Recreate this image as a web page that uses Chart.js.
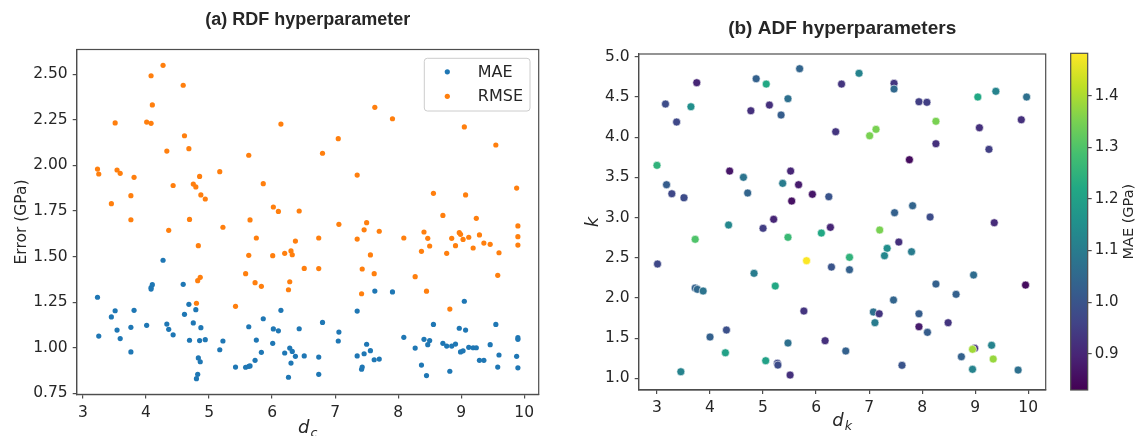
<!doctype html>
<html>
<head>
<meta charset="utf-8">
<title>RDF / ADF hyperparameters</title>
<script src="https://cdn.jsdelivr.net/npm/chart.js@4"></script>
<style>
  body { margin: 0; background: #fff; width: 1137px; height: 436px; overflow: hidden; position: relative; }
  .box { position: absolute; top: 0; height: 436px; }
</style>
</head>
<body>
<div class="box" style="left:0;width:560px"><canvas id="rdf"></canvas></div>
<div class="box" style="left:560px;width:577px"><canvas id="adf"></canvas></div>
<div class="box" style="left:1040px;width:97px"><canvas id="cbar"></canvas></div>

<script>
// ---- data ----
// (a) RDF: cutoff d_c, MAE and RMSE (GPa)
const dcValues = [3.23,3.25,3.45,3.51,3.54,3.59,3.76,3.76,3.81,4.01,
  4.08,4.08,4.10,4.27,4.33,4.36,4.43,4.59,4.61,4.68,
  4.69,4.75,4.79,4.80,4.82,4.83,4.85,4.86,4.87,4.94,
  5.17,5.22,5.42,5.58,5.63,5.63,5.65,5.73,5.75,5.83,
  5.86,6.01,6.02,6.10,6.14,6.20,6.26,6.28,6.30,6.32,
  6.37,6.43,6.51,6.74,6.74,6.80,7.05,7.06,7.35,7.35,
  7.42,7.43,7.46,7.50,7.56,7.62,7.63,7.70,7.91,8.09,
  8.27,8.37,8.41,8.45,8.47,8.50,8.56,8.71,8.77,8.82,
  8.85,8.91,8.97,8.99,9.03,9.05,9.07,9.12,9.19,9.24,
  9.29,9.36,9.46,9.55,9.58,9.60,9.88,9.90,9.90,9.90]
const maeRdf = [1.277,1.064,1.169,1.203,1.097,1.050,1.112,0.977,1.205,1.123,
  1.322,1.330,1.346,1.480,1.130,1.101,1.071,1.348,1.183,1.238,
  1.041,1.136,1.209,0.830,0.854,0.944,1.039,0.923,1.110,1.044,
  0.989,1.037,0.894,0.893,0.898,1.115,0.900,0.931,1.042,0.975,
  1.159,1.024,1.103,1.093,1.205,0.971,0.838,0.998,0.916,0.980,
  0.953,1.104,0.955,0.949,0.854,1.139,1.037,1.086,1.201,0.955,
  0.882,0.894,0.967,1.019,0.984,0.934,1.311,0.938,1.306,1.057,
  0.998,0.905,1.046,0.847,1.017,1.039,1.128,1.024,1.009,0.871,
  1.009,1.020,1.107,0.977,0.983,1.255,1.097,1.002,1.000,1.000,
  0.931,0.931,1.017,1.128,0.894,0.960,0.953,1.055,1.046,0.890]
const rmseRdf = [1.980,1.953,1.790,2.233,1.975,1.957,1.834,1.702,1.935,2.238,
  2.492,2.231,2.332,2.549,2.079,1.644,1.890,2.440,2.163,2.092,
  1.704,1.898,1.882,1.244,1.368,1.560,1.940,1.386,1.838,1.816,
  1.966,1.661,1.227,1.406,1.507,2.056,1.701,1.357,1.602,1.337,
  1.900,1.505,1.772,1.748,2.227,1.518,1.318,1.362,1.531,1.510,
  1.585,1.750,1.435,1.602,1.434,2.067,2.147,1.677,1.947,1.596,
  1.296,1.432,1.647,1.686,1.509,1.406,2.319,1.639,2.256,1.602,
  1.390,1.529,1.635,1.310,1.600,1.558,1.847,1.726,1.518,1.212,
  1.600,1.560,1.631,1.622,1.594,2.211,1.838,1.606,1.547,1.710,
  1.619,1.574,1.567,2.112,1.397,1.521,1.876,1.668,1.609,1.563]

// (b) ADF: cutoff d_k, k, MAE (GPa) shown as colour
const dkValues = [3.00,3.16,3.18,3.28,3.37,3.51,3.64,3.75,3.72,4.35,
  4.37,4.63,4.71,4.77,4.87,5.00,5.06,5.12,5.20,5.34,
  5.37,5.47,5.47,5.52,5.54,5.67,5.69,6.81,6.48,7.47,
  7.47,7.94,8.09,9.05,9.39,9.97,8.26,7.13,7.01,6.37,
  9.08,9.87,8.26,9.26,7.76,5.93,6.24,7.82,7.48,8.15,
  9.36,6.10,6.27,7.20,7.56,3.01,4.83,5.23,3.72,3.76,
  3.87,5.82,5.77,4.31,4.00,4.29,3.45,5.05,5.27,5.28,
  5.47,5.51,7.34,7.29,7.80,6.63,6.29,6.63,8.97,8.26,
  9.95,8.64,7.46,7.08,7.19,7.94,7.11,7.94,8.10,8.49,
  6.17,6.56,8.99,8.95,9.31,8.74,9.34,7.62,8.95,9.81]
const kValues = [3.649,4.412,3.408,3.296,4.188,3.246,4.378,4.677,2.729,2.907,
  3.578,3.500,3.305,4.328,4.726,2.866,4.660,4.399,2.978,4.275,
  3.425,4.478,2.754,3.578,3.205,3.408,4.851,4.794,4.660,4.669,
  4.598,4.440,4.433,4.499,4.570,4.499,4.197,4.097,4.017,4.067,
  4.117,4.216,3.918,3.848,3.719,3.289,3.259,3.147,3.060,3.006,
  2.935,2.807,2.878,2.845,2.695,2.422,2.306,2.148,2.123,2.107,
  2.086,2.463,1.837,1.601,1.514,1.318,1.082,1.219,1.187,1.165,
  1.439,1.041,2.617,2.525,2.575,2.505,2.384,2.351,2.285,2.173,
  2.160,2.045,1.974,1.825,1.803,1.803,1.692,1.642,1.572,1.692,
  1.468,1.340,1.373,1.361,1.411,1.269,1.240,1.162,1.112,1.103]
const maeAdf = [1.25,0.98,1.02,0.97,0.97,0.98,1.15,0.90,1.30,1.13,
  0.87,1.08,1.04,0.92,1.03,0.95,1.22,0.92,0.90,1.02,
  1.10,1.07,1.27,0.90,0.86,0.88,1.04,1.12,0.93,0.93,
  1.05,0.95,0.95,1.22,1.12,1.07,1.35,1.35,1.35,0.93,
  0.92,0.92,0.92,0.95,0.85,0.87,1.00,1.04,1.03,0.98,
  0.91,1.22,0.90,1.35,0.92,0.97,1.10,1.22,1.03,1.05,
  1.08,1.48,0.93,0.99,1.03,1.20,1.12,1.20,0.97,0.98,
  1.07,0.92,1.15,1.13,1.10,1.25,1.00,1.03,1.06,1.03,
  0.85,1.03,1.04,1.07,0.93,1.02,1.10,0.88,1.02,0.93,
  0.92,1.03,0.92,1.39,1.12,1.03,1.38,1.00,1.12,1.07]

const colorMin = 0.830
const colorMax = 1.482

// ---- look ----
const INK = '#262626'
const FRAME = '#4d4d4d'
const TICK_FONT = { family: 'DejaVu Sans', size: 15.5 }
const viridis = ['#440154','#482475','#414487','#355f8d','#2a788e','#21918c',
  '#22a884','#44bf70','#7ad151','#bddf26','#fde725']

function hexRgb(h) {
  return [1, 3, 5].map((i) => parseInt(h.slice(i, i + 2), 16))
}

function viridisAt(v) {
  let t = (v - colorMin) / (colorMax - colorMin)
  t = Math.max(0, Math.min(1, t)) * (viridis.length - 1)
  const i = Math.min(Math.floor(t), viridis.length - 2)
  const f = t - i
  const a = hexRgb(viridis[i])
  const b = hexRgb(viridis[i + 1])
  const c = a.map((x, j) => Math.round(x + (b[j] - x) * f))
  return `rgb(${c[0]},${c[1]},${c[2]})`
}

// italic symbol with a subscript, optionally rotated
function symbolLabel(ctx, main, sub, cx, cy, size, rotate) {
  ctx.save()
  ctx.translate(cx, cy)
  if (rotate) ctx.rotate(-Math.PI / 2)
  ctx.fillStyle = INK
  ctx.textAlign = 'left'
  ctx.textBaseline = 'middle'
  ctx.font = `italic ${size}px "DejaVu Sans"`
  const w1 = ctx.measureText(main).width
  ctx.font = `italic ${size * 0.7}px "DejaVu Sans"`
  const w2 = sub ? ctx.measureText(sub).width + 1 : 0
  const x0 = -(w1 + w2) / 2
  ctx.font = `italic ${size}px "DejaVu Sans"`
  ctx.fillText(main, x0, 0)
  if (sub) {
    ctx.font = `italic ${size * 0.7}px "DejaVu Sans"`
    ctx.fillText(sub, x0 + w1 + 1, size * 0.3)
  }
  ctx.restore()
}

const decor = {
  id: 'decor',
  afterDraw(chart, args, o) {
    const { ctx, chartArea: a } = chart
    ctx.save()
    ctx.strokeStyle = FRAME
    ctx.lineWidth = 1.2
    ctx.strokeRect(a.left, a.top, a.right - a.left, a.bottom - a.top)

    ctx.fillStyle = INK
    ctx.textAlign = 'center'
    ctx.textBaseline = 'middle'
    ctx.font = `bold ${o.titleSize}px "Liberation Sans", Arial, sans-serif`
    ctx.fillText(o.title, (a.left + a.right) / 2, o.titleY)

    const xs = o.xLabel
    symbolLabel(ctx, xs[0], xs[1], (a.left + a.right) / 2, o.xLabelY, 18, false)
    const ys = o.yLabel
    if (ys.plain) {
      ctx.save()
      ctx.translate(o.yLabelX, (a.top + a.bottom) / 2)
      ctx.rotate(-Math.PI / 2)
      ctx.font = '15.5px "DejaVu Sans"'
      ctx.fillText(ys.plain, 0, 0)
      ctx.restore()
    } else {
      symbolLabel(ctx, ys[0], ys[1], o.yLabelX, (a.top + a.bottom) / 2, 18, true)
    }

    if (o.legend) {
      const L = o.legend
      ctx.fillStyle = 'rgba(255,255,255,0.85)'
      ctx.strokeStyle = '#cccccc'
      ctx.lineWidth = 1
      ctx.beginPath()
      ctx.roundRect(L.x, L.y, L.w, L.h, 3)
      ctx.fill()
      ctx.stroke()
      ctx.font = '16px "DejaVu Sans"'
      ctx.textAlign = 'left'
      chart.data.datasets.forEach((ds, i) => {
        const yy = L.y + 13.5 + i * 24.5
        ctx.fillStyle = ds.backgroundColor
        ctx.beginPath()
        ctx.arc(L.x + 23, yy, 2.6, 0, Math.PI * 2)
        ctx.fill()
        ctx.fillStyle = INK
        ctx.fillText(ds.label, L.x + 53.5, yy + 1)
      })
    }
    ctx.restore()
  }
}

function axis(min, max, step, digits, extra) {
  return Object.assign({
    type: 'linear',
    min: min,
    max: max,
    grid: { drawOnChartArea: false, drawTicks: true, tickLength: 4, color: FRAME, lineWidth: 1.2 },
    border: { display: true, color: FRAME, width: 1.2 },
    ticks: {
      stepSize: step,
      includeBounds: false,
      color: INK,
      font: TICK_FONT,
      padding: 5,
      maxRotation: 0,
      autoSkip: false,
      callback: (v) => Number(v).toFixed(digits)
    }
  }, extra)
}

// ---- (a) RDF hyperparameter ----
new Chart(document.getElementById('rdf'), {
  type: 'scatter',
  data: {
    datasets: [
      {
        label: 'MAE',
        data: dcValues.map((x, i) => ({ x: x, y: maeRdf[i] })),
        backgroundColor: '#1f77b4',
        pointRadius: 2.6,
        borderWidth: 0
      },
      {
        label: 'RMSE',
        data: dcValues.map((x, i) => ({ x: x, y: rmseRdf[i] })),
        backgroundColor: '#ff7f0e',
        pointRadius: 2.6,
        borderWidth: 0
      }
    ]
  },
  options: {
    animation: false,
    responsive: true,
    maintainAspectRatio: false,
    layout: { padding: { top: 49.5, right: 21.3, left: 0, bottom: 0 } },
    scales: {
      x: axis(2.9, 10.23, 1, 0, { afterFit: (s) => { s.height = 41.6 } }),
      y: axis(0.744, 2.636, 0.25, 2, { afterFit: (s) => { s.width = 76.7 } })
    },
    plugins: {
      legend: { display: false },
      tooltip: { enabled: false },
      decor: {
        title: '(a) RDF hyperparameter',
        titleSize: 18,
        titleY: 20,
        xLabel: ['d', 'c'],
        xLabelY: 428,
        yLabel: { plain: 'Error (GPa)' },
        yLabelX: 22,
        legend: { x: 424.3, y: 58.3, w: 105.7, h: 52.7 }
      }
    }
  },
  plugins: [decor]
})

// ---- (b) ADF hyperparameters ----
new Chart(document.getElementById('adf'), {
  type: 'scatter',
  data: {
    datasets: [{
      label: 'MAE',
      data: dkValues.map((x, i) => ({ x: x, y: kValues[i] })),
      backgroundColor: maeAdf.map(viridisAt),
      borderColor: '#ffffff',
      borderWidth: 0.6,
      pointRadius: 4
    }]
  },
  options: {
    animation: false,
    responsive: true,
    maintainAspectRatio: false,
    layout: { padding: { top: 54, right: 91.3, left: 0, bottom: 0 } },
    scales: {
      x: axis(2.655, 10.33, 1, 0, { afterFit: (s) => { s.height = 46 } }),
      y: axis(0.855, 5.034, 0.5, 1, { afterFit: (s) => { s.width = 78.7 } })
    },
    plugins: {
      legend: { display: false },
      tooltip: { enabled: false },
      decor: {
        title: '(b) ADF hyperparameters',
        titleSize: 19,
        titleY: 29,
        xLabel: ['d', 'k'],
        xLabelY: 421,
        yLabel: ['k', ''],
        yLabelX: 33
      }
    }
  },
  plugins: [decor]
})

// ---- colour bar ----
const colorBar = {
  id: 'colorBar',
  beforeDraw(chart) {
    const { ctx, chartArea: a } = chart
    const g = ctx.createLinearGradient(0, a.bottom, 0, a.top)
    viridis.forEach((c, i) => g.addColorStop(i / (viridis.length - 1), c))
    ctx.save()
    ctx.fillStyle = g
    ctx.fillRect(a.left, a.top, a.right - a.left, a.bottom - a.top)
    ctx.restore()
  },
  afterDraw(chart) {
    const { ctx, chartArea: a } = chart
    ctx.save()
    ctx.strokeStyle = FRAME
    ctx.lineWidth = 1.2
    ctx.strokeRect(a.left, a.top, a.right - a.left, a.bottom - a.top)
    ctx.translate(89.5, (a.top + a.bottom) / 2)
    ctx.rotate(-Math.PI / 2)
    ctx.fillStyle = INK
    ctx.textAlign = 'center'
    ctx.textBaseline = 'middle'
    ctx.font = '14.5px "DejaVu Sans"'
    ctx.fillText('MAE (GPa)', 0, 0)
    ctx.restore()
  }
}

new Chart(document.getElementById('cbar'), {
  type: 'scatter',
  data: { datasets: [] },
  options: {
    animation: false,
    responsive: true,
    maintainAspectRatio: false,
    layout: { padding: { top: 53.3, left: 30.7, right: 0, bottom: 46 } },
    scales: {
      x: { display: false },
      y: axis(colorMin, colorMax, 0.1, 1, {
        position: 'right',
        border: { display: false },
        ticks: {
          stepSize: 0.1,
          includeBounds: false,
          color: INK,
          font: { family: 'DejaVu Sans', size: 15 },
          padding: 3,
          callback: (v) => Number(v).toFixed(1)
        },
        afterFit: (s) => { s.width = 49.3 }
      })
    },
    plugins: { legend: { display: false }, tooltip: { enabled: false } }
  },
  plugins: [colorBar]
})
</script>
</body>
</html>
